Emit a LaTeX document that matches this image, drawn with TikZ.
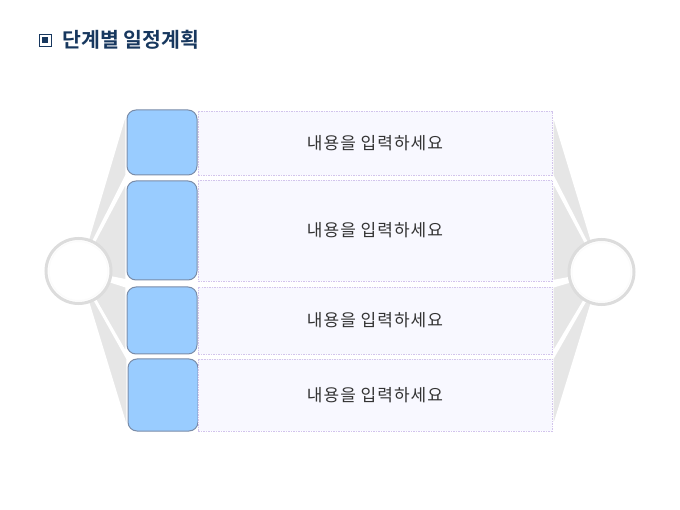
\documentclass[tikz,border=0pt]{standalone}
\usepackage{fontspec}
\usetikzlibrary{backgrounds}
\setmainfont{Noto Sans CJK KR}[BoldFont={Noto Sans CJK KR Bold}]
\newfontfamily\bodyfont{Noto Sans CJK KR}[LetterSpace=6]
\definecolor{titleblue}{HTML}{17375E}
\definecolor{stepblue}{HTML}{99CCFF}
\definecolor{stepline}{HTML}{7A8CA8}
\definecolor{boxfill}{HTML}{F8F8FF}
\definecolor{boxline}{HTML}{D2C4EC}
\definecolor{fangray}{HTML}{E6E6E6}
\definecolor{ringgray}{HTML}{DCDCDC}
\begin{document}
\begin{tikzpicture}[x=1pt,y=-1pt,
  stepbox/.style={draw=stepline,fill=stepblue,line width=1pt,rounded corners=9pt,
    minimum width=70pt,inner sep=0pt},
  textbox/.style={draw=boxline,fill=boxfill,dashed,dash pattern=on 1.5pt off 1pt,
    line width=0.7pt,minimum width=354pt,inner sep=0pt,
    font=\bodyfont\fontsize{17}{20}\selectfont,text=black!80},
  hub/.style={circle,draw=ringgray,fill=white,line width=3pt,minimum size=65pt,inner sep=0pt},
  fan/.style={fill=fangray,draw=white,line width=2.5pt,line join=round}]
\useasboundingbox (0,0) rectangle (680,510);

% title
\draw[titleblue,line width=0.8pt] (39,34) rectangle (51,46);
\fill[titleblue] (41.8,36.8) rectangle (48.2,43.2);
\node[anchor=west,text=titleblue,font=\bfseries\fontsize{20.5}{24}\selectfont] (title) at (59,40) {단계별 일정계획};

% step boxes
\node[stepbox,minimum height=65pt] (b1) at (162,142.5) {};
\node[stepbox,minimum height=99pt] (b2) at (162,230.5) {};
\node[stepbox,minimum height=67pt] (b3) at (162,320.5) {};
\node[stepbox,minimum height=72pt] (b4) at (163,395) {};

% text boxes
\node[textbox,minimum height=64pt] (t1) at (375,143) {내용을 입력하세요};
\node[textbox,minimum height=101pt] (t2) at (375,230.5) {내용을 입력하세요};
\node[textbox,minimum height=67pt] (t3) at (375,320.5) {내용을 입력하세요};
\node[textbox,minimum height=72pt] (t4) at (375,395) {내용을 입력하세요};

% hubs
\node[hub] (L) at (78.5,271) {};
\node[hub] (R) at (601.5,272) {};
\draw[white!90!ringgray,line width=1pt] (L) circle (29.5);
\draw[white!90!ringgray,line width=1pt] (R) circle (29.5);

% fans
\begin{scope}[on background layer]
\foreach \i in {1,2,3,4}{
  \path[fan] (L.center) -- (b\i.north west) -- (b\i.south west) -- cycle;
  \path[fan] (R.center) -- (t\i.north east) -- (t\i.south east) -- cycle;
}
\end{scope}
\end{tikzpicture}
\end{document}
